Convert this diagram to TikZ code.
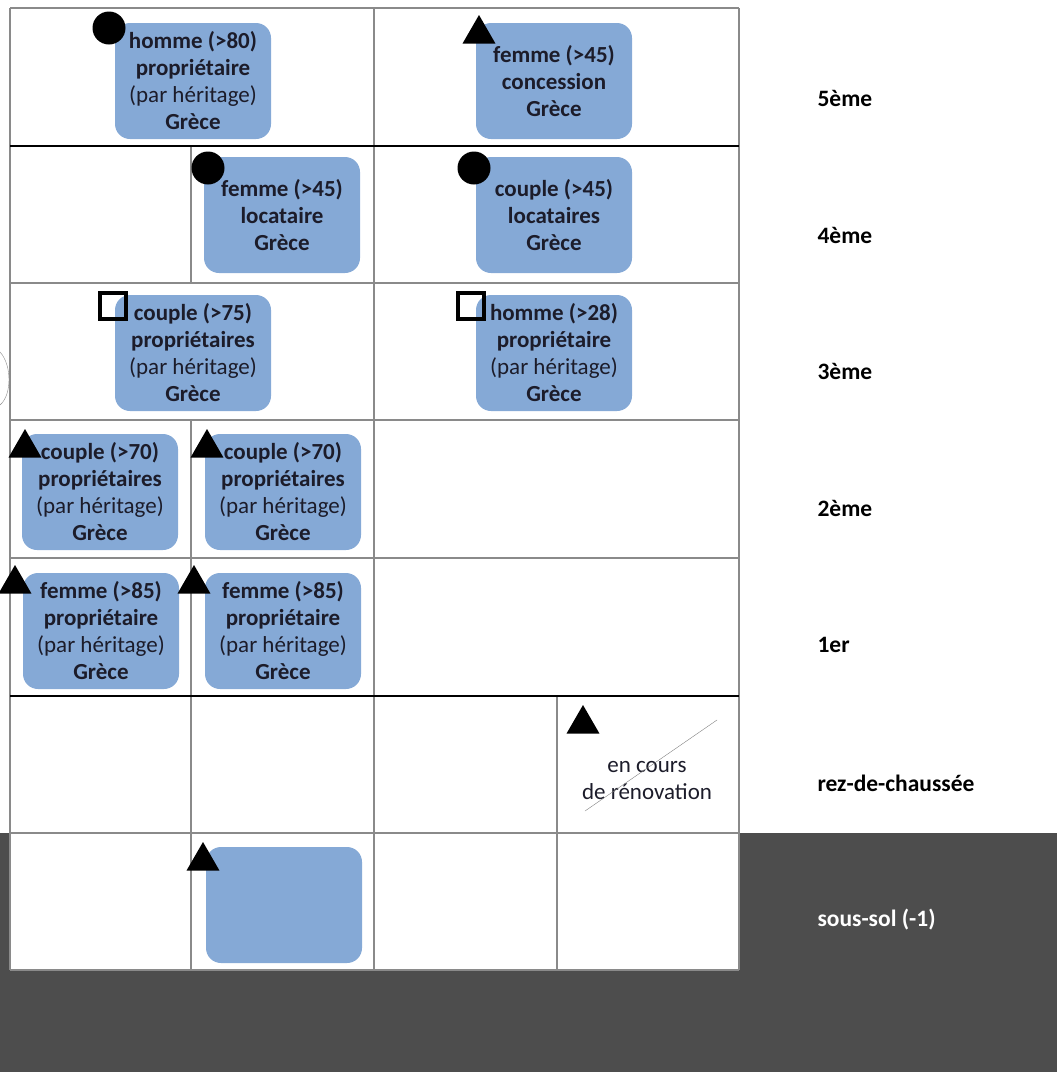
\documentclass[tikz,border=0pt]{standalone}
\usepackage{fontspec}
\setmainfont{Carlito}
\usepackage{tikz}
\usetikzlibrary{positioning, shapes.geometric}
\definecolor{Bleu}{HTML}{85A9D6}
\definecolor{Sol}{HTML}{4D4D4D}
\definecolor{Encre}{HTML}{1C1C2A}
\definecolor{Trait}{HTML}{8A8A8A}
\tikzset{
    logement/.style={rectangle, rounded corners=15pt, fill=Bleu, text=Encre, align=center, minimum width=156pt, minimum height=116pt, inner sep=0pt, font=\fontsize{23}{27}\selectfont\bfseries},
    etage/.style={anchor=west, font=\fontsize{23.5}{27}\selectfont\bfseries},
    rond/.style={circle, fill=black, minimum size=33pt, inner sep=0pt},
    tri/.style={regular polygon, regular polygon sides=3, fill=black, minimum size=38pt, inner sep=0pt},
    carre/.style={rectangle, draw=black, line width=4.5pt, minimum size=26pt, inner sep=0pt},
    cloison/.style={Trait, line width=1.2pt},
    dalle/.style={black, line width=1.6pt},
}
\begin{document}
\begin{tikzpicture}[x=1pt, y=-1pt]
    \useasboundingbox (0,0) rectangle (1057,1074);

    % Sous-sol
    \fill[Sol] (0,833) rectangle (1057,1072);
    \fill[white] (10,833) rectangle (739,970);

    % Cloisons
    \foreach \y in {8,283,420,558,833,970}
        \draw[cloison] (10,\y) -- (739,\y);
    \draw[cloison] (10,8) -- (10,970);
    \draw[cloison] (739,8) -- (739,970);
    \draw[cloison] (374,8) -- (374,970);
    \draw[cloison] (191,146) -- (191,283);
    \draw[cloison] (191,420) -- (191,970);
    \draw[cloison] (557,696) -- (557,970);
    \draw[dalle] (10,146) -- (739,146);
    \draw[dalle] (10,696) -- (739,696);
    \draw[Trait, thin] (0,352) .. controls (12,365) and (12,395) .. (0,405);

    % Logements
    \node[logement] (h80) at (193,81) {homme (>80)\\propriétaire\\\mdseries(par héritage)\\Grèce};
    \node[logement] (f45c) at (554,81) {femme (>45)\\concession\\Grèce};
    \node[logement] (f45l) at (282,215) {femme (>45)\\locataire\\Grèce};
    \node[logement] (c45) at (554,215) {couple (>45)\\locataires\\Grèce};
    \node[logement] (c75) at (193,353) {couple (>75)\\propriétaires\\\mdseries(par héritage)\\Grèce};
    \node[logement] (h28) at (554,353) {homme (>28)\\propriétaire\\\mdseries(par héritage)\\Grèce};
    \node[logement] (c70a) at (100,492) {couple (>70)\\propriétaires\\\mdseries(par héritage)\\Grèce};
    \node[logement] (c70b) at (283,492) {couple (>70)\\propriétaires\\\mdseries(par héritage)\\Grèce};
    \node[logement] (f85a) at (101,631) {femme (>85)\\propriétaire\\\mdseries(par héritage)\\Grèce};
    \node[logement] (f85b) at (283,631) {femme (>85)\\propriétaire\\\mdseries(par héritage)\\Grèce};
    \node[logement] (cave) at (284,905) {};

    % Marqueurs
    \node[rond] (m1) at (109,28) {};
    \node[rond] (m2) at (208,168) {};
    \node[rond] (m3) at (474,168) {};
    \node[carre] (m4) at (113,306) {};
    \node[carre] (m5) at (471,306) {};
    \node[tri] (m6) at (479,34) {};
    \node[tri] (m7) at (25,448) {};
    \node[tri] (m8) at (207,448) {};
    \node[tri] (m9) at (15,584) {};
    \node[tri] (m10) at (194,584) {};
    \node[tri] (m11) at (583,724) {};
    \node[tri] (m12) at (203,861) {};

    % Travaux
    \node[align=center, text=Encre, font=\fontsize{23}{27}\selectfont] (reno) at (647,780) {en cours\\de rénovation};
    \draw[gray, thin] (585,811) -- (717,720);

    % Etages
    \node[etage] (e5) at (814,98) {5ème};
    \node[etage] (e4) at (814,235) {4ème};
    \node[etage] (e3) at (814,371) {3ème};
    \node[etage] (e2) at (814,508) {2ème};
    \node[etage] (e1) at (814,645) {1er};
    \node[etage] (e0) at (814,783) {rez-de-chaussée};
    \node[etage, text=white] (em1) at (814,920) {sous-sol (-1)};
\end{tikzpicture}
\end{document}
